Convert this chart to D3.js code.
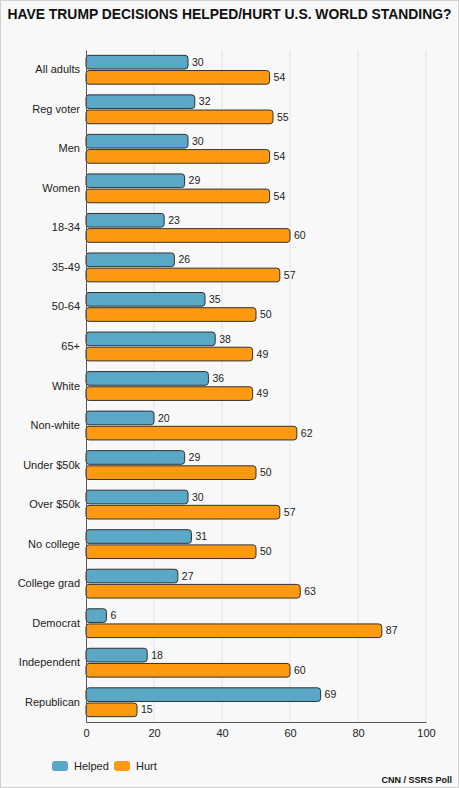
<!DOCTYPE html>
<html>
<head>
<meta charset="utf-8">
<script src="https://cdn.jsdelivr.net/npm/d3@7"></script>
<style>
  html, body { margin: 0; padding: 0; background: #f8f8f8; }
  svg { display: block; font-family: "Liberation Sans", Arial, sans-serif; }
</style>
</head>
<body>
<script>
// Data
const groups = ["All adults", "Reg voter", "Men", "Women", "18-34", "35-49", "50-64", "65+",
  "White", "Non-white", "Under $50k", "Over $50k", "No college", "College grad",
  "Democrat", "Independent", "Republican"];
const helped = [30, 32, 30, 29, 23, 26, 35, 38, 36, 20, 29, 30, 31, 27, 6, 18, 69];
const hurt = [54, 55, 54, 54, 60, 57, 50, 49, 49, 62, 50, 57, 50, 63, 87, 60, 15];
const seriesNames = ["Helped", "Hurt"];
const xTicks = [0, 20, 40, 60, 80, 100];

const width = 459, height = 788;
const margin = { top: 50, right: 33, bottom: 66, left: 86 };
const colors = ["#5ba7c6", "#fd9a12"];

const svg = d3.select("body")
  .append("svg")
  .attr("width", width)
  .attr("height", height);

// background + frame
svg.append("rect")
  .attr("x", 0.5).attr("y", 0.5)
  .attr("width", width - 1).attr("height", height - 1)
  .attr("fill", "#f8f8f8")
  .attr("stroke", "#d0d0d0");

// title
svg.append("text")
  .attr("x", width / 2)
  .attr("y", 19)
  .attr("text-anchor", "middle")
  .attr("font-weight", "bold")
  .attr("font-size", 14)
  .attr("textLength", 444)
  .attr("lengthAdjust", "spacingAndGlyphs")
  .attr("fill", "#111")
  .text("HAVE TRUMP DECISIONS HELPED/HURT U.S. WORLD STANDING?");

const x = d3.scaleLinear()
  .domain([0, 100])
  .range([margin.left, width - margin.right]);

const y = d3.scaleBand()
  .domain(groups)
  .range([margin.top, height - margin.bottom])
  .paddingInner(0.27)
  .paddingOuter(0.135);

const ySub = d3.scaleBand()
  .domain(seriesNames)
  .range([0, y.bandwidth()])
  .paddingInner(0.1);

// grid lines
svg.append("g")
  .selectAll("line")
  .data(xTicks.slice(1))
  .join("line")
  .attr("x1", d => x(d)).attr("x2", d => x(d))
  .attr("y1", margin.top).attr("y2", height - margin.bottom)
  .attr("stroke", "#e4e4e4")
  .attr("stroke-width", 1);

// bars
const rows = groups.map((g, i) => ({ group: g, values: [helped[i], hurt[i]] }));

const row = svg.append("g")
  .selectAll("g")
  .data(rows)
  .join("g")
  .attr("transform", d => `translate(0,${y(d.group)})`);

row.selectAll("rect")
  .data(d => d.values.map((v, j) => ({ key: seriesNames[j], value: v, j })))
  .join("rect")
  .attr("x", x(0))
  .attr("y", d => ySub(d.key))
  .attr("width", d => x(d.value) - x(0))
  .attr("height", ySub.bandwidth())
  .attr("rx", 3)
  .attr("fill", d => colors[d.j])
  .attr("stroke", "#333")
  .attr("stroke-width", 1);

row.selectAll("text.val")
  .data(d => d.values.map((v, j) => ({ key: seriesNames[j], value: v })))
  .join("text")
  .attr("class", "val")
  .attr("x", d => x(d.value) + 4)
  .attr("y", d => ySub(d.key) + ySub.bandwidth() / 2)
  .attr("dy", "0.35em")
  .attr("font-size", 10.5)
  .attr("fill", "#222")
  .text(d => d.value);

// y axis (labels + line)
const yAxis = svg.append("g")
  .attr("transform", `translate(${margin.left},0)`)
  .call(d3.axisLeft(y).tickSize(0).tickPadding(6));
yAxis.select(".domain").attr("stroke", "#555");
yAxis.selectAll("text").attr("font-size", 11).attr("fill", "#222")
  .attr("font-family", "Liberation Sans, Arial, sans-serif");

// x axis
const xAxis = svg.append("g")
  .attr("transform", `translate(0,${height - margin.bottom})`)
  .call(d3.axisBottom(x).tickValues(xTicks).tickSize(0).tickPadding(7));
xAxis.select(".domain").attr("stroke", "#555");
xAxis.selectAll("text").attr("font-size", 11).attr("fill", "#222")
  .attr("font-family", "Liberation Sans, Arial, sans-serif");

// legend
const legend = svg.append("g")
  .attr("transform", "translate(52,761)");
const items = legend.selectAll("g")
  .data(seriesNames)
  .join("g")
  .attr("transform", (d, i) => `translate(${i * 62},0)`);
items.append("rect")
  .attr("width", 16).attr("height", 10)
  .attr("rx", 3)
  .attr("fill", (d, i) => colors[i]);
items.append("text")
  .attr("x", 22).attr("y", 5)
  .attr("dy", "0.35em")
  .attr("font-size", 11)
  .attr("fill", "#222")
  .text(d => d);

// source
svg.append("text")
  .attr("x", width - 7)
  .attr("y", 783)
  .attr("text-anchor", "end")
  .attr("font-size", 9)
  .attr("font-weight", "bold")
  .attr("fill", "#111")
  .text("CNN / SSRS Poll");
</script>
</body>
</html>
